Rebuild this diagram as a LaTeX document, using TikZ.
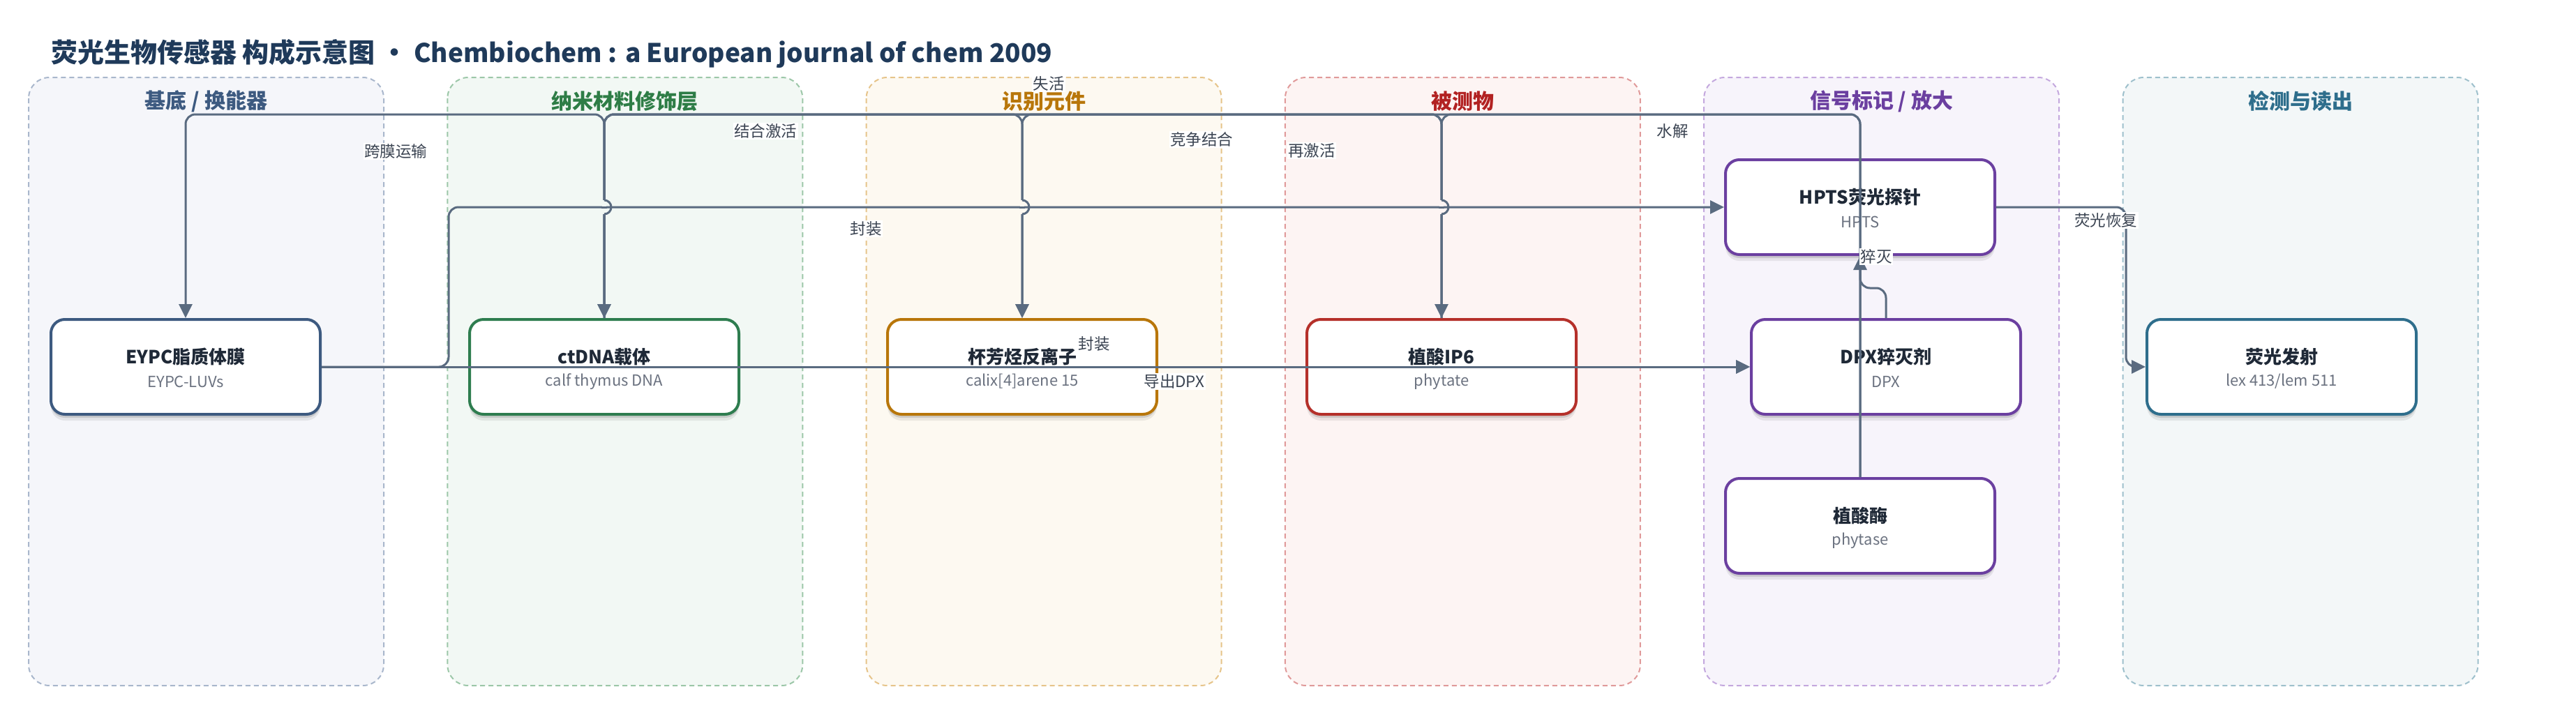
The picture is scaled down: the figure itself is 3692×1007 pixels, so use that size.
\documentclass[tikz,border=0pt]{standalone}
\usepackage{fontspec}
\setmainfont{Noto Sans CJK SC}
\usetikzlibrary{arrows.meta,shadows,calc}
\definecolor{edgec}{HTML}{5A6B80}
\definecolor{titlec}{HTML}{1F3A5A}
\definecolor{txtc}{HTML}{1F2937}
\definecolor{subc}{HTML}{6B7280}
\definecolor{labc}{HTML}{3B4452}
\definecolor{laneAf}{HTML}{F5F6FA}\definecolor{laneAb}{HTML}{A9B7CC}\definecolor{laneAh}{HTML}{3D5A80}
\definecolor{laneBf}{HTML}{F2F8F4}\definecolor{laneBb}{HTML}{9CC7A8}\definecolor{laneBh}{HTML}{2E7D46}
\definecolor{laneCf}{HTML}{FDF9F1}\definecolor{laneCb}{HTML}{E6C48A}\definecolor{laneCh}{HTML}{B8760A}
\definecolor{laneDf}{HTML}{FDF4F3}\definecolor{laneDb}{HTML}{E09A9A}\definecolor{laneDh}{HTML}{B22222}
\definecolor{laneEf}{HTML}{F7F4FB}\definecolor{laneEb}{HTML}{C4A8DE}\definecolor{laneEh}{HTML}{6B3FA0}
\definecolor{laneFf}{HTML}{F3F7F8}\definecolor{laneFb}{HTML}{9EC0CC}\definecolor{laneFh}{HTML}{2E6E8C}
\definecolor{nA}{HTML}{3D5A80}
\definecolor{nB}{HTML}{2E7D4F}
\definecolor{nC}{HTML}{B8760A}
\definecolor{nD}{HTML}{B5302A}
\definecolor{nE}{HTML}{6B3FA0}
\definecolor{nF}{HTML}{2E6E8C}
\tikzset{
  lanebox/.style={rounded corners=30pt, line width=2pt, dash pattern=on 7pt off 5pt},
  lanehead/.style={font=\fontsize{30}{34}\selectfont\bfseries},
  nodebox/.style={rounded corners=20pt, line width=4pt, fill=white,
     minimum width=386pt, minimum height=136pt, inner sep=0pt,
     drop shadow={shadow xshift=0pt, shadow yshift=-9pt, opacity=0.07, fill=black},
     drop shadow={shadow xshift=0pt, shadow yshift=-5pt, opacity=0.12, fill=black}},
  ntitle/.style={font=\fontsize{26}{30}\selectfont\bfseries, text=txtc, inner sep=0pt},
  nsub/.style={font=\fontsize{22}{26}\selectfont, text=subc, inner sep=0pt},
  edge/.style={draw=edgec, line width=3pt, rounded corners=14pt},
  arr/.style={-{Triangle[length=20pt,width=19pt]}},
  elabel/.style={font=\fontsize{22.5}{26}\selectfont, text=labc, fill=white, inner sep=1.5pt},
}
\newcommand{\mkbox}[6]{%
  \node[nodebox, draw=#4] (#1) at (#2,#3) {};
  \node[ntitle] (#1-t) at (#2,#3-14) {#5};
  \node[nsub] (#1-s) at (#2,#3+21) {#6};
}
\begin{document}
\begin{tikzpicture}[x=1pt,y=-1pt]
\useasboundingbox (0,0) rectangle (3692,1007);
\fill[white] (0,0) rectangle (3692,1007);
% title
\node[anchor=west, font=\fontsize{38}{44}\selectfont\bfseries, text=titlec, inner sep=0pt] (title) at (73,77)
  {荧光生物传感器 构成示意图 • {\fontsize{37}{44}\selectfont Chembiochem : a European journal of chem 2009}};
% lanes
\foreach \i/\L/\name/\txt in {0/A/lA/{基底 / 换能器}, 1/B/lB/{纳米材料修饰层}, 2/C/lC/{识别元件}, 3/D/lD/{被测物}, 4/E/lE/{信号标记 / 放大}, 5/F/lF/{检测与读出}}{
  \pgfmathsetmacro{\xl}{41+600.3*\i}
  \pgfmathsetmacro{\xc}{\xl+254.5}
  \draw[lanebox, fill=lane\L f, draw=lane\L b] (\xl,111) rectangle ++(509,872);
  \node[lanehead, text=lane\L h] (\name) at (\xc,145) {\txt};
}
% nodes
\mkbox{eypc}{266}{526}{nA}{EYPC脂质体膜}{EYPC-LUVs}
\mkbox{ctdna}{866}{526}{nB}{ctDNA载体}{calf thymus DNA}
\mkbox{calix}{1465}{526}{nC}{杯芳烃反离子}{calix[4]arene 15}
\mkbox{phytate}{2066}{526}{nD}{植酸IP6}{phytate}
\mkbox{hpts}{2666}{297}{nE}{HPTS荧光探针}{HPTS}
\mkbox{dpx}{2703}{526}{nE}{DPX猝灭剂}{DPX}
\mkbox{phytase}{2666}{754}{nE}{植酸酶}{phytase}
\mkbox{fluor}{3270}{526}{nF}{荧光发射}{lex 413/lem 511}
% routing coordinates
\coordinate (top) at (0,164);
\coordinate (vx) at (643,0);
\coordinate (hx) at (3047,0);
% top-route edges
\draw[edge,arr] (ctdna.north) -- (ctdna.north |- top) -| (eypc.north);
\draw[edge,arr] (ctdna.north) -- (ctdna.north |- top) -| (calix.north);
\draw[edge,arr] (phytate.north) -- (phytate.north |- top) -| (calix.north);
\draw[edge,arr] (phytate.north) -- (phytate.north |- top) -| (ctdna.north);
\draw[edge,arr] (phytase.north) -- (phytase.north |- top) -| (phytate.north);
\draw[edge,arr] (phytase.north) -- (phytase.north |- top) -| (ctdna.north);
% middle / bottom edges
\draw[edge,arr] (eypc.east) -- (eypc.east -| vx) |- (hpts.west);
\draw[edge,arr] (eypc.east) -- (dpx.west);
\draw[edge,arr] (calix.east) -- (dpx.west);
\draw[edge,arr] (dpx.north) -- ++(0,-43) -| (hpts.south);
\draw[edge,arr] (hpts.east) -- (hpts.east -| hx) |- (fluor.west);
% line hops where verticals cross the y=297 line
\foreach \x/\c in {866/laneBf, 1465/laneCf, 2066/laneDf}{
  \fill[\c] (\x-3,287) rectangle (\x+3,307);
  \draw[draw=edgec, line width=3pt] (\x-4,297) -- (\x+4,297);
  \draw[draw=edgec, line width=3pt] (\x,307) arc[start angle=-90, end angle=90, radius=10pt];
}
% edge labels
\node[elabel] (l1) at (567,217) {跨膜运输};
\node[elabel] (l2) at (1097,188) {结合激活};
\node[elabel] (l3) at (1503,120) {失活};
\node[elabel] (l4) at (1722,200) {竞争结合};
\node[elabel] (l5) at (1880,216) {再激活};
\node[elabel] (l6) at (2397,188) {水解};
\node[elabel] (l7) at (1241,328) {封装};
\node[elabel] (l8) at (1568,493) {封装};
\node[elabel] (l9) at (1683,547) {导出DPX};
\node[elabel] (l10) at (3018,316) {荧光恢复};
\node[elabel] (l11) at (2689,368) {猝灭};
\end{tikzpicture}
\end{document}
